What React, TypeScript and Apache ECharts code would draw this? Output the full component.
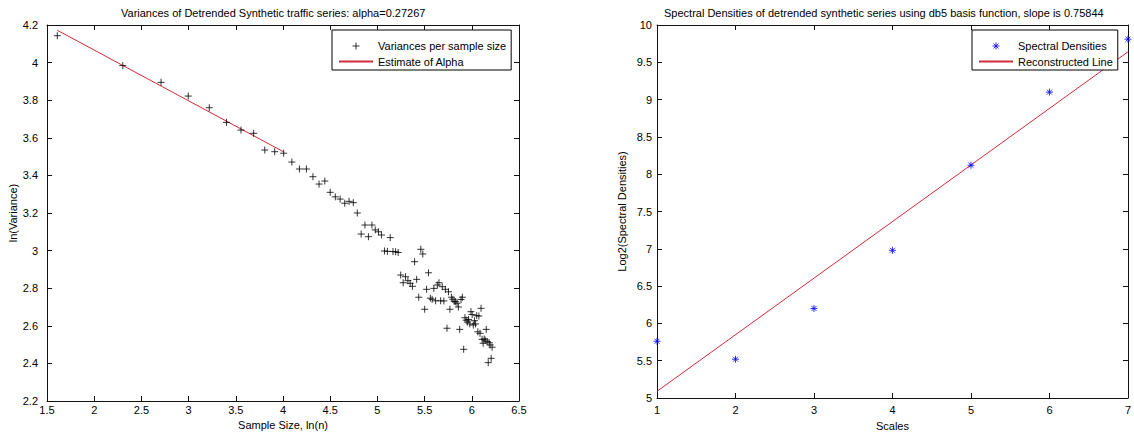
import React, { useEffect, useRef } from "react";
import * as echarts from "echarts";

// Left panel: ln(sample size) vs ln(variance)
const lnSampleSize = [
  1.609, 2.303, 2.708, 2.996, 3.219, 3.401, 3.555, 3.689, 3.807, 3.912,
  4.007, 4.094, 4.174, 4.248, 4.317, 4.382, 4.443, 4.5, 4.554, 4.605,
  4.654, 4.7, 4.745, 4.787, 4.828, 4.868, 4.905, 4.942, 4.977, 5.011,
  5.043, 5.075, 5.106, 5.136, 5.165, 5.193, 5.22, 5.247, 5.273, 5.298,
  5.323, 5.347, 5.371, 5.394, 5.416, 5.438, 5.46, 5.481, 5.501, 5.521,
  5.541, 5.561, 5.58, 5.598, 5.617, 5.635, 5.652, 5.67, 5.687, 5.704,
  5.72, 5.737, 5.753, 5.768, 5.784, 5.799, 5.814, 5.829, 5.844, 5.858,
  5.872, 5.886, 5.9, 5.914, 5.927, 5.94, 5.953, 5.966, 5.979, 5.991,
  6.004, 6.016, 6.028, 6.04, 6.052, 6.064, 6.075, 6.087, 6.098, 6.109,
  6.12, 6.131, 6.142, 6.153, 6.163, 6.174, 6.184, 6.194, 6.205, 6.215,
];
const lnVariance = [
  4.143, 3.984, 3.895, 3.822, 3.76, 3.682, 3.641, 3.624, 3.535, 3.526,
  3.518, 3.471, 3.434, 3.434, 3.393, 3.354, 3.37, 3.31, 3.286, 3.274,
  3.252, 3.262, 3.255, 3.2, 3.088, 3.136, 3.074, 3.136, 3.11, 3.1,
  3.083, 2.998, 2.996, 3.069, 2.995, 2.994, 2.99, 2.87, 2.829, 2.861,
  2.84, 2.826, 2.81, 2.941, 2.847, 2.752, 3.007, 2.982, 2.688, 2.794,
  2.882, 2.747, 2.741, 2.799, 2.733, 2.817, 2.829, 2.733, 2.808, 2.732,
  2.794, 2.587, 2.781, 2.688, 2.752, 2.741, 2.73, 2.728, 2.72, 2.7,
  2.581, 2.74, 2.752, 2.475, 2.643, 2.63, 2.62, 2.634, 2.61, 2.675,
  2.66, 2.604, 2.627, 2.61, 2.654, 2.568, 2.652, 2.56, 2.693, 2.528,
  2.507, 2.53, 2.524, 2.581, 2.516, 2.404, 2.51, 2.498, 2.427, 2.486,
];
const alphaFitX = [1.609, 4.007];
const alphaFitY = [4.172, 3.525];

// Right panel: scales vs log2 spectral densities
const scales = [1, 2, 3, 4, 5, 6, 7];
const log2Spectral = [5.76, 5.52, 6.2, 6.98, 8.12, 9.1, 9.81];
const reconX = [1, 7];
const reconY = [5.09, 9.64];

const FONT = "'Liberation Sans', Arial, Helvetica, sans-serif";
const PLUS = "path://M0,4L8,4M4,0L4,8";
const STAR = "path://M0,4L8,4M4,0L4,8M1.2,1.2L6.8,6.8M1.2,6.8L6.8,1.2";
const RED = "#d42a3a";
const BLUE = "#0000ff";
const AXIS = "#111";

function zip(a: number[], b: number[]) {
  return a.map((v, i) => [v, b[i]]);
}

function axisBase(extra: any) {
  return {
    type: "value",
    scale: false,
    splitLine: { show: false },
    axisLine: { show: true, onZero: false, lineStyle: { color: AXIS, width: 1 } },
    axisTick: { show: true, inside: true, length: 5, lineStyle: { color: AXIS } },
    axisLabel: { color: "#000", fontSize: 11, fontFamily: FONT },
    nameTextStyle: { color: "#000", fontSize: 11, fontFamily: FONT },
    ...extra,
  };
}

export default function App() {
  const ref = useRef<HTMLDivElement>(null);
  useEffect(() => {
    if (!ref.current) return;
    const chart = echarts.init(ref.current, null, { renderer: "svg" });
    const legendBase = {
      orient: "vertical",
      itemWidth: 34,
      itemHeight: 7,
      itemGap: 4,
      padding: [10, 5, 3, 6],
      borderColor: "#000",
      borderWidth: 1,
      borderRadius: 0,
      backgroundColor: "#fff",
      selectedMode: false,
      textStyle: { fontSize: 11, color: "#000", fontFamily: FONT },
    };
    const hiddenSymbol = { opacity: 0 };
    chart.setOption({
      animation: false,
      backgroundColor: "#fff",
      title: [
        {
          text: "Variances of Detrended Synthetic traffic series: alpha=0.27267",
          left: 121,
          top: 7,
          padding: 0,
          textStyle: { fontSize: 11, fontWeight: "normal", color: "#000", fontFamily: FONT },
        },
        {
          text: "Spectral Densities of detrended synthetic series using db5 basis function, slope is 0.75844",
          left: 664,
          top: 7,
          padding: 0,
          textStyle: { fontSize: 11, fontWeight: "normal", color: "#000", fontFamily: FONT },
        },
      ],
      grid: [
        { left: 47, top: 25, width: 472, height: 376, containLabel: false },
        { left: 657, top: 25, width: 473, height: 377, containLabel: false },
      ],
      legend: [
        {
          ...legendBase,
          left: 332,
          top: 30,
          data: [
            { name: "Variances per sample size", itemStyle: { color: "none", borderColor: "#000", borderWidth: 1 } },
            { name: "Estimate of Alpha", itemStyle: hiddenSymbol },
          ],
        },
        {
          ...legendBase,
          left: 972,
          top: 30,
          data: [
            { name: "Spectral Densities", itemStyle: { color: "none", borderColor: BLUE, borderWidth: 1 } },
            { name: "Reconstructed Line", itemStyle: hiddenSymbol },
          ],
        },
      ],
      xAxis: [
        axisBase({
          gridIndex: 0, position: "bottom", min: 1.5, max: 6.5, interval: 0.5,
          name: "Sample Size, ln(n)", nameLocation: "middle", nameGap: 12,
          axisLabel: { color: "#000", fontSize: 11, fontFamily: FONT, margin: 3 },
        }),
        axisBase({
          gridIndex: 0, position: "top", min: 1.5, max: 6.5, interval: 0.5,
          axisLabel: { show: false },
        }),
        axisBase({
          gridIndex: 1, position: "bottom", min: 1, max: 7, interval: 1,
          name: "Scales", nameLocation: "middle", nameGap: 22,
          axisLabel: { color: "#000", fontSize: 11, fontFamily: FONT, margin: 6 },
        }),
        axisBase({
          gridIndex: 1, position: "top", min: 1, max: 7, interval: 1,
          axisLabel: { show: false },
        }),
      ],
      yAxis: [
        axisBase({
          gridIndex: 0, position: "left", min: 2.2, max: 4.2, interval: 0.2,
          name: "ln(Variance)", nameLocation: "middle", nameGap: 28,
          axisLabel: { color: "#000", fontSize: 11, fontFamily: FONT, margin: 9 },
        }),
        axisBase({
          gridIndex: 0, position: "right", min: 2.2, max: 4.2, interval: 0.2,
          axisLabel: { show: false },
        }),
        axisBase({
          gridIndex: 1, position: "left", min: 5, max: 10, interval: 0.5,
          name: "Log2(Spectral Densities)", nameLocation: "middle", nameGap: 30,
          axisLabel: { color: "#000", fontSize: 11, fontFamily: FONT, margin: 5 },
        }),
        axisBase({
          gridIndex: 1, position: "right", min: 5, max: 10, interval: 0.5,
          axisLabel: { show: false },
        }),
      ],
      series: [
        {
          type: "scatter",
          name: "Variances per sample size",
          xAxisIndex: 0,
          yAxisIndex: 0,
          data: zip(lnSampleSize, lnVariance),
          symbol: PLUS,
          symbolSize: 7,
          clip: false,
          itemStyle: { color: "none", borderColor: "#000", borderWidth: 1 },
          z: 3,
        },
        {
          type: "line",
          name: "Estimate of Alpha",
          xAxisIndex: 0,
          yAxisIndex: 0,
          data: zip(alphaFitX, alphaFitY),
          symbol: "none",
          color: RED,
          lineStyle: { color: RED, width: 1 },
          z: 2,
        },
        {
          type: "scatter",
          name: "Spectral Densities",
          xAxisIndex: 2,
          yAxisIndex: 2,
          data: zip(scales, log2Spectral),
          symbol: STAR,
          symbolSize: 7,
          clip: false,
          itemStyle: { color: "none", borderColor: BLUE, borderWidth: 1 },
          z: 3,
        },
        {
          type: "line",
          name: "Reconstructed Line",
          xAxisIndex: 2,
          yAxisIndex: 2,
          data: zip(reconX, reconY),
          symbol: "none",
          color: RED,
          lineStyle: { color: RED, width: 1 },
          z: 2,
        },
      ],
    });
    return () => chart.dispose();
  }, []);
  return (
    <div
      ref={ref}
      style={{ position: "absolute", left: 0, top: 0, width: 1134, height: 436, background: "#fff" }}
    />
  );
}
